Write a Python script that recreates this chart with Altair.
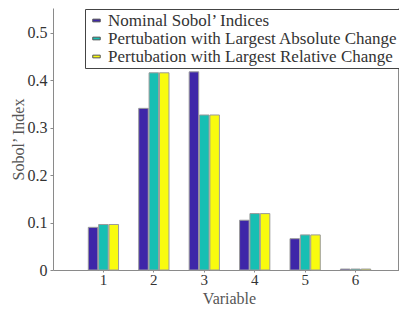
import altair as alt
import pandas as pd

variables = ["1", "2", "3", "4", "5", "6"]
series = [
    "Nominal Sobol’ Indices",
    "Pertubation with Largest Absolute Change",
    "Pertubation with Largest Relative Change",
]
nominal = [0.090, 0.341, 0.418, 0.105, 0.066, 0.002]
largest_abs = [0.096, 0.416, 0.327, 0.119, 0.074, 0.002]
largest_rel = [0.096, 0.416, 0.327, 0.119, 0.074, 0.002]
colors = ["#3e26a8", "#17bfb3", "#f9fb0e"]
y_ticks = [0, 0.1, 0.2, 0.3, 0.4, 0.5]

rows = []
for s, vals in zip(series, [nominal, largest_abs, largest_rel]):
    for v, val in zip(variables, vals):
        rows.append({"Variable": v, "Series": s, "Value": val})
df = pd.DataFrame(rows)

FONT = "Liberation Serif"
TXT = "#333333"
AX = "#8a8a8a"

x_enc = alt.X(
    "Variable:N",
    sort=variables,
    scale=alt.Scale(paddingInner=0.4, paddingOuter=0.7, range=[0, 353]),
    axis=alt.Axis(
        title="Variable", labelAngle=0, tickSize=2, labelPadding=0,
        labelFontSize=15, titleFontSize=16,
        titleX=176, titleY=33, titleBaseline="alphabetic",
        domainColor=AX, tickColor=AX,
    ),
)
xoff_enc = alt.XOffset("Series:N", sort=series, scale=alt.Scale(paddingInner=0.08))
y_scale = alt.Scale(domain=[0, 0.5527], nice=False, zero=True)
color_enc = alt.Color(
    "Series:N",
    sort=series,
    scale=alt.Scale(domain=series, range=colors),
    legend=alt.Legend(
        title=None, orient="none", legendX=32, legendY=1,
        direction="vertical",
        fillColor="white", strokeColor="#444444", padding=3,
        labelFont=FONT, labelFontSize=17, labelColor=TXT, labelLimit=400,
        symbolType="M-1,-0.36H1V0.36H-1Z", symbolSize=56,
        symbolStrokeColor="#555555", symbolStrokeWidth=1,
        labelOffset=3, rowPadding=0, symbolOpacity=1,
    ),
)

bars = alt.Chart(df).mark_bar(stroke="#9a9a9a", strokeWidth=1).encode(
    x=x_enc,
    xOffset=xoff_enc,
    y=alt.Y(
        "Value:Q", scale=y_scale,
        axis=alt.Axis(
            title="Sobol’ Index", values=y_ticks, format="~g", tickSize=3,
            labelPadding=3, labelFontSize=16, titleFontSize=16,
            titleX=-30, titleBaseline="alphabetic",
            domainColor=AX, tickColor=AX,
        ),
    ),
    color=color_enc,
)

right = alt.Chart(df).mark_bar(opacity=0).encode(
    x=x_enc,
    xOffset=xoff_enc,
    y=alt.Y(
        "Value:Q", scale=y_scale,
        axis=alt.Axis(
            orient="right", title=None, labels=False, values=y_ticks,
            tickSize=3, domainColor=AX, tickColor=AX,
        ),
    ),
    color=color_enc,
)

chart = (
    alt.layer(bars, right)
    .resolve_axis(y="independent")
    .properties(
        width=345, height=262,
        autosize=alt.AutoSizeParams(type="none"),
        padding={"left": 45, "top": 0, "right": 1, "bottom": 37},
    )
    .configure_view(stroke=None)
    .configure_axis(
        grid=False, labelFont=FONT, titleFont=FONT,
        labelColor=TXT, titleColor="#555555",
        titleFontWeight="normal",
    )
    .configure_legend(labelFont=FONT, labelFontSize=17)
)

chart.save("out.html", embed_options={"renderer": "svg", "actions": False})
